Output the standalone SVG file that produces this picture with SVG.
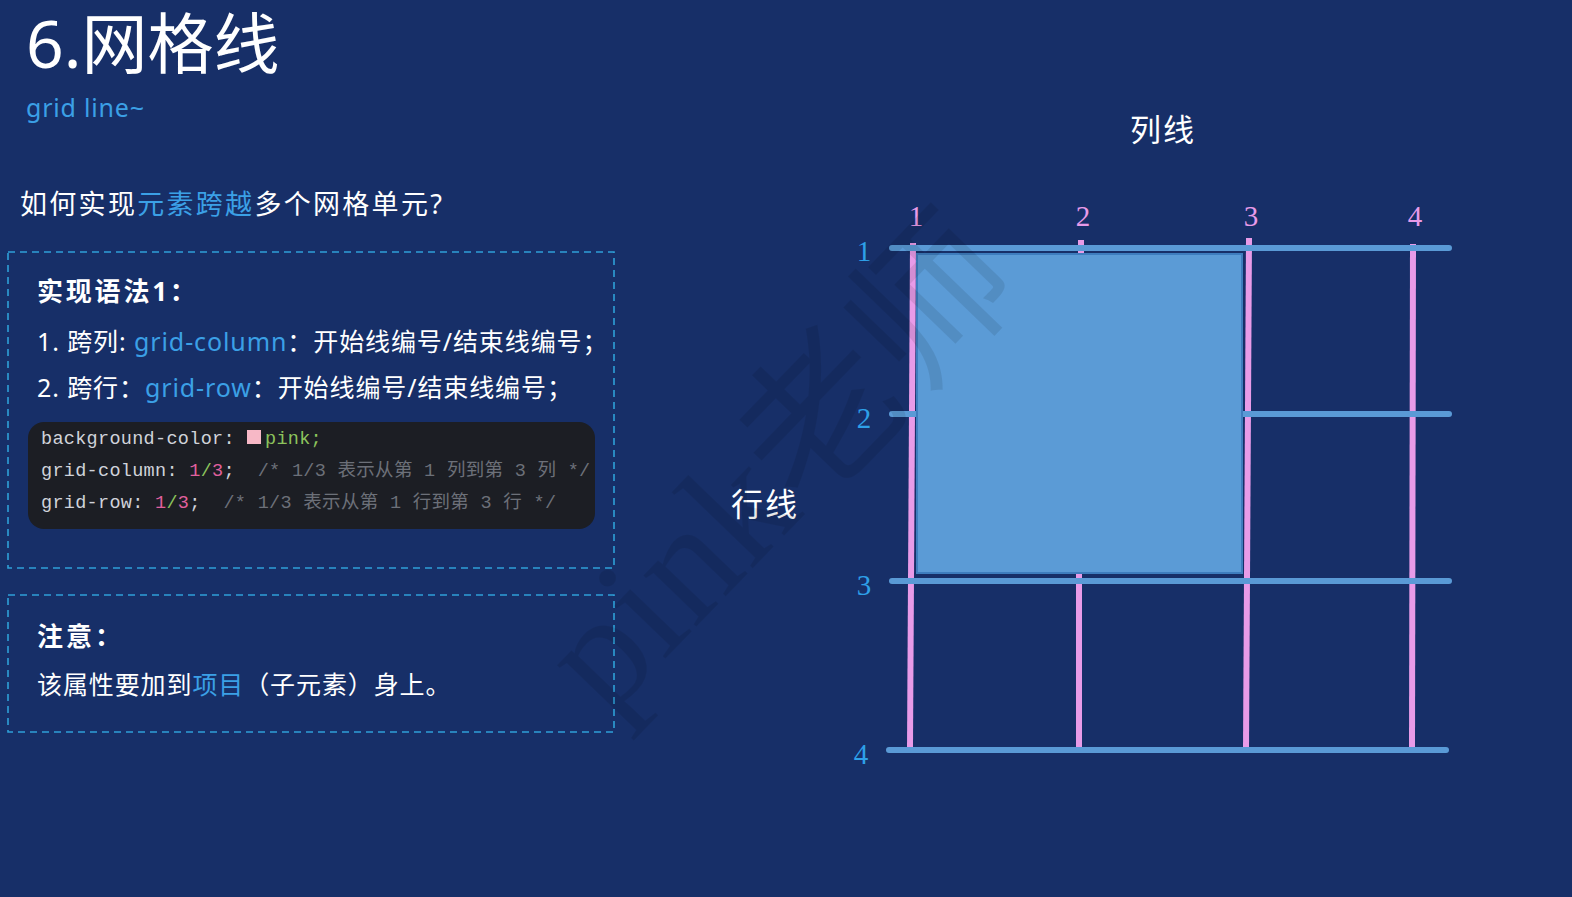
<svg xmlns="http://www.w3.org/2000/svg" width="1572" height="897" viewBox="0 0 1572 897">
<style>
.cn{font-family:"Noto Sans","Noto Sans CJK SC",sans-serif;fill:#ffffff}
.body{font-size:25px;letter-spacing:0.9px}
.hl{fill:#3ba0e6}
.box{fill:none;stroke:#2fa0d8;stroke-width:1.6;stroke-dasharray:7 5}
.code{font-family:"Liberation Mono","Noto Sans CJK SC",monospace;font-size:18.5px;letter-spacing:0.3px;fill:#d0d3da}
.cm{fill:#6c7079}
.num{fill:#e0609e}
.grn{fill:#8cc35c}
.num2{font-family:"Liberation Serif",serif;font-size:29px}
.hline{stroke:#5a9ad6;stroke-width:6;stroke-linecap:round}
.vline{stroke:#e89be8;stroke-width:6}
</style>
<rect width="1572" height="897" fill="#172f68"/>

<g id="title">
<text class="cn" x="26" y="68" font-size="66">6.网格线</text>
<text class="cn hl" x="26" y="117" font-size="25" letter-spacing="0.8">grid line~</text>
</g>

<g id="question">
<text class="cn" x="20" y="214" font-size="27" letter-spacing="2.3">如何实现<tspan class="hl">元素跨越</tspan>多个网格单元?</text>
</g>

<g id="syntax-box">
<rect class="box" x="8" y="252" width="606" height="316"/>
<text class="cn" x="37" y="301" font-size="26" font-weight="bold" letter-spacing="2.8">实现语法1：</text>
<text class="cn body" x="37" y="351">1. 跨列: <tspan class="hl">grid-column</tspan>：开始线编号/结束线编号；</text>
<text class="cn body" x="37" y="397">2. 跨行：<tspan class="hl">grid-row</tspan>：开始线编号/结束线编号；</text>
<rect x="28" y="422" width="567" height="107" rx="16" fill="#1c1e24"/>
<rect x="247" y="430" width="14" height="14" fill="#f7b8c6"/>
<text class="code" x="41" y="444">background-color: <tspan x="265" class="grn">pink;</tspan></text>
<text class="code" x="41" y="476" xml:space="preserve">grid-column: <tspan class="num">1</tspan><tspan class="grn">/</tspan><tspan class="num">3</tspan>;  <tspan class="cm">/* 1/3 表示从第 1 列到第 3 列 */</tspan></text>
<text class="code" x="41" y="508" xml:space="preserve">grid-row: <tspan class="num">1</tspan><tspan class="grn">/</tspan><tspan class="num">3</tspan>;  <tspan class="cm">/* 1/3 表示从第 1 行到第 3 行 */</tspan></text>
</g>

<g id="note-box">
<rect class="box" x="8" y="595" width="606" height="137"/>
<text class="cn" x="37" y="646" font-size="26" font-weight="bold" letter-spacing="3">注意：</text>
<text class="cn body" x="37" y="694" letter-spacing="1.6">该属性要加到<tspan class="hl">项目</tspan>（子元素）身上。</text>
</g>

<g id="labels">
<text class="cn" x="1130" y="141" font-size="31" letter-spacing="2">列线</text>
<text class="cn" x="731" y="516" font-size="32" letter-spacing="2">行线</text>
</g>

<g id="grid-lines">
<line class="vline" x1="913" y1="243" x2="910" y2="747"/>
<line class="vline" x1="1081" y1="240" x2="1081" y2="254"/>
<line class="vline" x1="1079" y1="573" x2="1079" y2="747"/>
<line class="vline" x1="1249" y1="238" x2="1246" y2="747"/>
<line class="vline" x1="1413" y1="244" x2="1412" y2="747"/>
<line class="hline" x1="892" y1="248" x2="1449" y2="248"/>
<line class="hline" x1="892" y1="414" x2="1449" y2="414"/>
<line class="hline" x1="892" y1="581" x2="1449" y2="581"/>
<line class="hline" x1="889" y1="750" x2="1446" y2="750"/>
</g>

<g id="item">
<rect x="917" y="254" width="325" height="319" fill="#5b9bd6" stroke="#3e7dbe" stroke-width="2"/>
</g>

<g id="col-numbers" class="num2" fill="#e89be8" text-anchor="middle">
<text x="916" y="226">1</text>
<text x="1083" y="226">2</text>
<text x="1251" y="226">3</text>
<text x="1415" y="226">4</text>
</g>
<g id="row-numbers" class="num2" fill="#2ea0e8" text-anchor="middle">
<text x="864" y="261">1</text>
<text x="864" y="428">2</text>
<text x="864" y="595">3</text>
<text x="861" y="764">4</text>
</g>

<g id="watermark">
<text x="785" y="515" font-family="Liberation Serif,Noto Sans CJK SC,serif" font-size="160" fill="#000" fill-opacity="0.09" text-anchor="middle" transform="rotate(-46 785 470)">pink老师</text>
</g>
</svg>
